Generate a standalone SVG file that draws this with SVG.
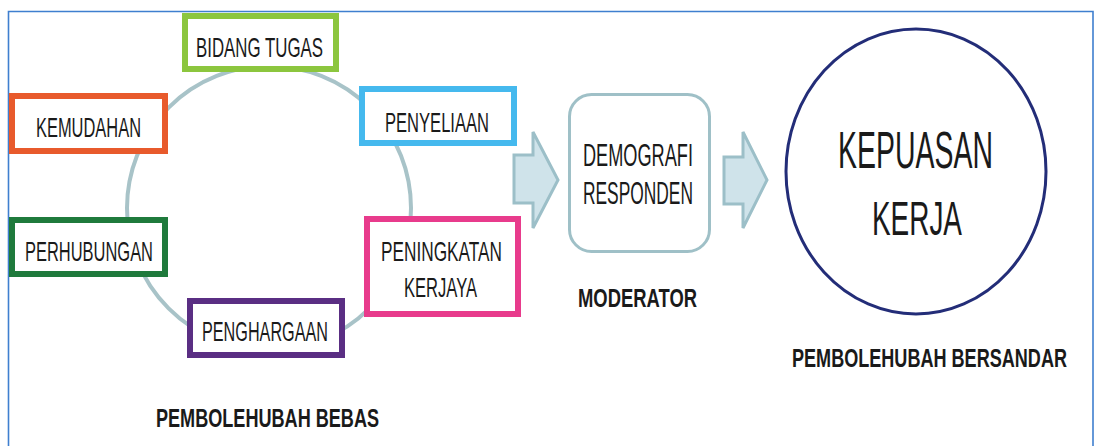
<svg xmlns="http://www.w3.org/2000/svg" width="1094" height="446" viewBox="0 0 1094 446">
<style>
.box{fill:#fff;stroke-width:6}
.t{font-family:"Liberation Sans",Arial,sans-serif;font-size:28px;fill:#1a1a1a;text-anchor:middle}
.lbl{font-family:"Liberation Sans",Arial,sans-serif;font-size:25px;font-weight:bold;fill:#1a1a1a;text-anchor:middle}
.arrow{fill:#cfe3ea;stroke:#9cbfc8;stroke-width:3;stroke-linejoin:miter}
</style>
<rect x="0" y="0" width="1094" height="446" fill="#fff"/>
<g id="frame" fill="none" stroke="#3f7fcf" stroke-width="1.6">
<path d="M8.5,446 V11.5 H1093 V446"/>
</g>
<g id="connectors">
<circle cx="269" cy="208" r="142" fill="none" stroke="#a8c3c8" stroke-width="4"/>
<path class="arrow" d="M514,155 H533 V132 L558,180 L533,228 V203 H514 Z"/>
<path class="arrow" d="M724,157 H743 V132 L767,180 L743,228 V204 H724 Z"/>
</g>
<g id="bidang-tugas">
<rect class="box" x="185" y="16" width="151" height="53" stroke="#8cc63e"/>
<text class="t" x="259.5" y="57" textLength="127" lengthAdjust="spacingAndGlyphs">BIDANG TUGAS</text>
</g>
<g id="kemudahan">
<rect class="box" x="12" y="96" width="153" height="55" stroke="#e85a2c"/>
<text class="t" x="88.5" y="137" textLength="105" lengthAdjust="spacingAndGlyphs">KEMUDAHAN</text>
</g>
<g id="penyeliaan">
<rect class="box" x="362" y="89" width="152" height="54" stroke="#45b9ee"/>
<text class="t" x="437" y="132" textLength="104" lengthAdjust="spacingAndGlyphs">PENYELIAAN</text>
</g>
<g id="perhubungan">
<rect class="box" x="12" y="220" width="153" height="54" stroke="#1f7a3c"/>
<text class="t" x="89" y="261" textLength="128" lengthAdjust="spacingAndGlyphs">PERHUBUNGAN</text>
</g>
<g id="peningkatan-kerjaya">
<rect class="box" x="367" y="219" width="151" height="95" stroke="#e83b8c"/>
<text class="t" x="441.5" y="261" textLength="121" lengthAdjust="spacingAndGlyphs">PENINGKATAN</text>
<text class="t" x="440.5" y="297" textLength="73" lengthAdjust="spacingAndGlyphs">KERJAYA</text>
</g>
<g id="penghargaan">
<rect class="box" x="190" y="301" width="152" height="54" stroke="#5a2e83"/>
<text class="t" x="265" y="341" textLength="126" lengthAdjust="spacingAndGlyphs">PENGHARGAAN</text>
</g>
<g id="demografi">
<rect x="569.5" y="94.5" width="140" height="157" rx="22" fill="#fff" stroke="#9fc0c7" stroke-width="3"/>
<text class="t" x="638" y="166" font-size="31" textLength="110" lengthAdjust="spacingAndGlyphs" style="font-size:31px">DEMOGRAFI</text>
<text class="t" x="638" y="204" textLength="110" lengthAdjust="spacingAndGlyphs" style="font-size:31px">RESPONDEN</text>
</g>
<g id="kepuasan">
<ellipse cx="916" cy="171.5" rx="130" ry="142.5" fill="#fff" stroke="#232d78" stroke-width="3"/>
<text class="t" x="915.5" y="168" textLength="155" lengthAdjust="spacingAndGlyphs" style="font-size:52px">KEPUASAN</text>
<text class="t" x="917" y="235" textLength="90" lengthAdjust="spacingAndGlyphs" style="font-size:48px">KERJA</text>
</g>
<g id="labels">
<text class="lbl" x="267.5" y="427" textLength="223" lengthAdjust="spacingAndGlyphs">PEMBOLEHUBAH BEBAS</text>
<text class="lbl" x="637.5" y="307" textLength="119" lengthAdjust="spacingAndGlyphs">MODERATOR</text>
<text class="lbl" x="929.5" y="367" textLength="275" lengthAdjust="spacingAndGlyphs">PEMBOLEHUBAH BERSANDAR</text>
</g>
</svg>
